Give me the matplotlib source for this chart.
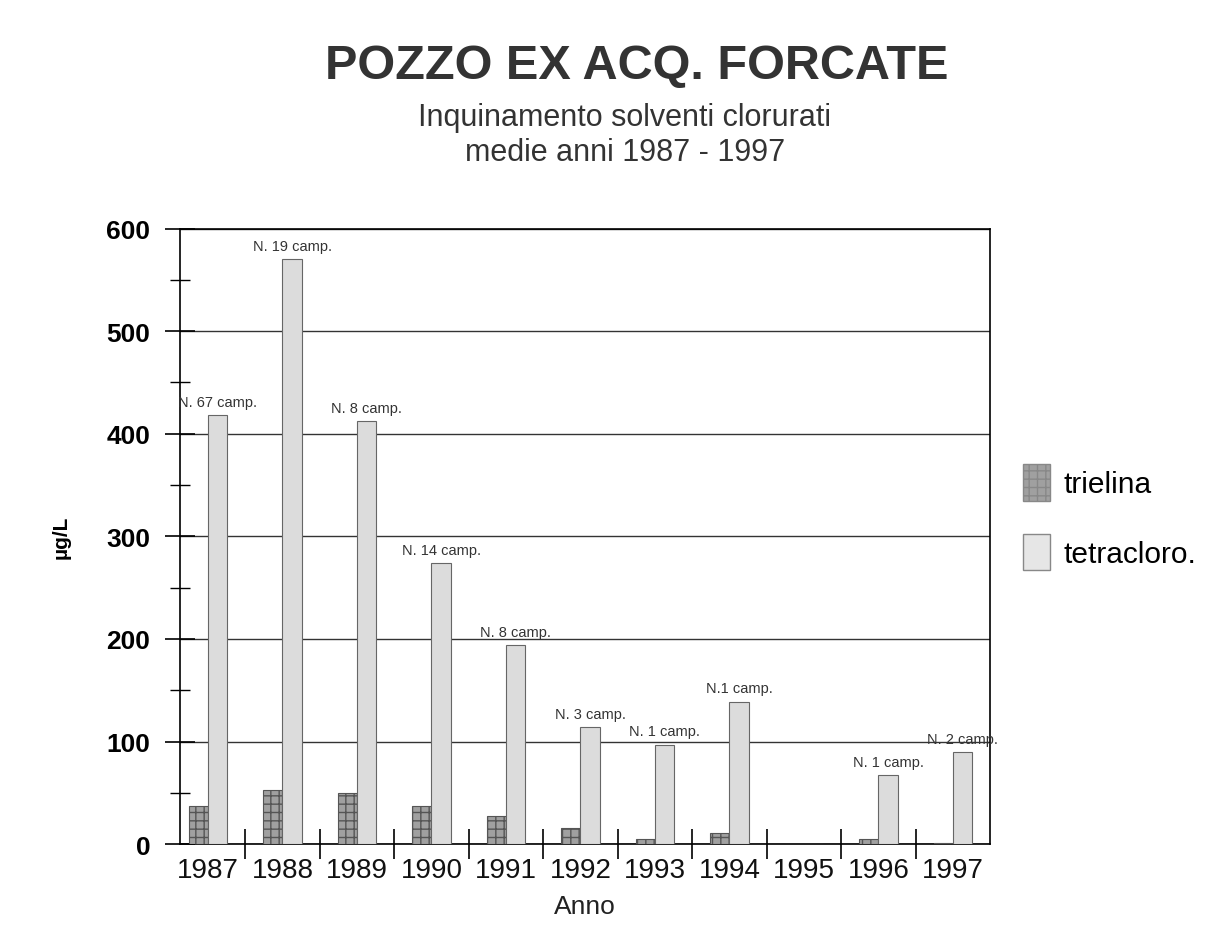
import matplotlib
matplotlib.use("Agg")
import matplotlib.pyplot as plt
import numpy as np
from matplotlib.patches import Patch

plt.rcParams['font.family'] = ['Liberation Sans', 'DejaVu Sans']
plt.rcParams['hatch.color'] = '#777777'

years = ['1987', '1988', '1989', '1990', '1991', '1992', '1993', '1994', '1995', '1996', '1997']
trielina = [37, 53, 50, 37, 27, 16, 5, 11, 0, 5, 1]
tetracloro = [418, 570, 412, 274, 194, 114, 97, 139, 0, 67, 90]
labels = ['N. 67 camp.', 'N. 19 camp.', 'N. 8 camp.', 'N. 14 camp.', 'N. 8 camp.',
          'N. 3 camp.', 'N. 1 camp.', 'N.1 camp.', '', 'N. 1 camp.', 'N. 2 camp.']

fig = plt.figure(figsize=(12.3, 9.37), dpi=100)
ax = fig.add_axes([0.146, 0.098, 0.659, 0.657])

x = np.arange(len(years))
w = 0.26
ax.bar(x - 0.13, trielina, w, color='#a0a0a0', edgecolor='#555555', linewidth=0.8, hatch='++', zorder=3)
ax.bar(x + 0.13, tetracloro, w, color='#dcdcdc', edgecolor='#666666', linewidth=0.8, zorder=3)

for xi, v, lab in zip(x, tetracloro, labels):
    if lab:
        ax.text(xi + 0.13, v + 6, lab, ha='center', va='bottom', fontsize=10.5, color='#333333')

ax.set_xlim(-0.38, 10.5)
ax.set_ylim(0, 600)
ax.set_yticks(np.arange(0, 601, 100))
ax.set_yticks(np.arange(0, 601, 50), minor=True)
ax.yaxis.grid(True, which='major', color='#333333', linewidth=1.0, zorder=0)
ax.set_xticks(x)
ax.set_xticklabels(years)
ax.set_xticks(np.arange(0.5, 10.5, 1), minor=True)
ax.tick_params(axis='x', which='major', length=0, labelsize=20, pad=9)
ax.tick_params(axis='x', which='minor', length=22, direction='inout', width=1.2)
ax.tick_params(axis='y', which='major', length=22, direction='inout', width=1.2, labelsize=19, pad=10)
ax.tick_params(axis='y', which='minor', length=14, direction='inout', width=1.0)
for t in ax.get_yticklabels():
    t.set_fontweight('bold')
for t in ax.get_xticklabels():
    t.set_color('#111111')
for s in ax.spines.values():
    s.set_linewidth(1.2)

ax.set_ylabel('µg/L', fontsize=15, fontweight='bold', labelpad=26)
ax.set_xlabel('Anno', fontsize=19, labelpad=8, color='#222222')

fig.text(0.518, 0.929, 'POZZO EX ACQ. FORCATE', ha='center', va='center',
         fontsize=35, fontweight='bold', color='#333333')
fig.text(0.508, 0.874, 'Inquinamento solventi clorurati', ha='center', va='center',
         fontsize=22, color='#333333')
fig.text(0.508, 0.837, 'medie anni 1987 - 1997', ha='center', va='center',
         fontsize=22, color='#333333')

handles = [Patch(facecolor='#a0a0a0', edgecolor='#888888', hatch='++', label='trielina'),
           Patch(facecolor='#e6e6e6', edgecolor='#888888', label='tetracloro.')]
fig.legend(handles=handles, loc='center left', bbox_to_anchor=(0.81, 0.447),
           frameon=False, fontsize=21.5, handlelength=0.9, handleheight=1.5,
           labelspacing=1.1, handletextpad=0.45)

fig.savefig('out.png', dpi=100)
